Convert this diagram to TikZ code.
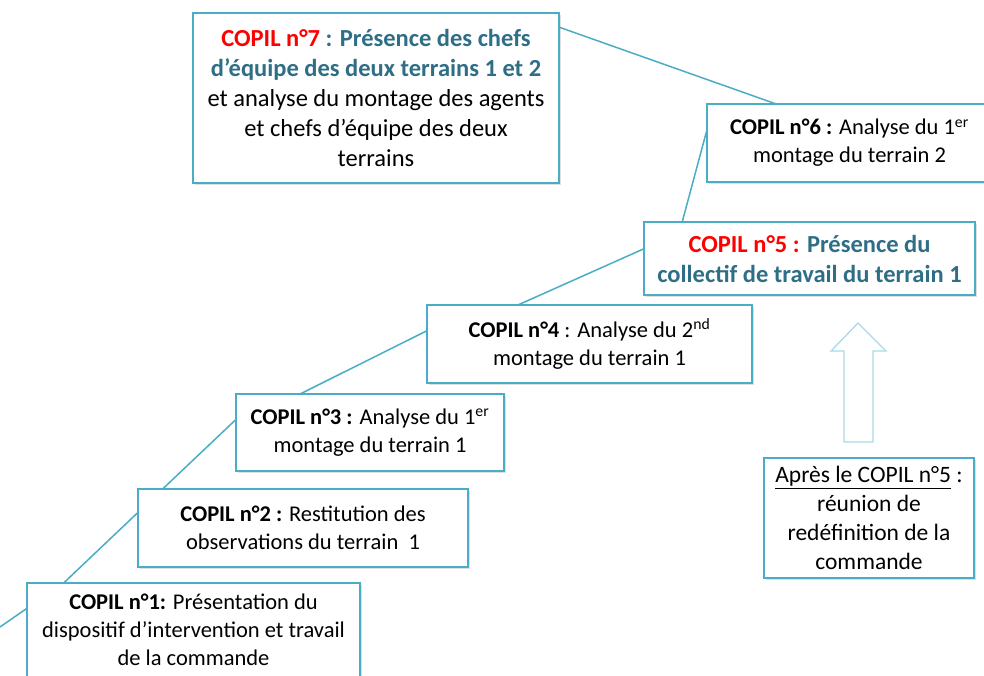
\documentclass[tikz,border=0pt]{standalone}
\usepackage{fontspec}
\setmainfont{Carlito}
\usepackage{xcolor}
\usetikzlibrary{positioning,shadows,backgrounds}

\definecolor{boxblue}{HTML}{4BACC6}
\definecolor{arrowblue}{HTML}{A9DAE8}
\definecolor{tealtext}{HTML}{2F6E87}
\definecolor{copilred}{HTML}{FF0000}

\tikzset{
    copil/.style={draw=boxblue, line width=1.3pt, fill=white, align=center,
        inner sep=0pt, font=\fontsize{22.5}{28}\selectfont,
        drop shadow={opacity=0.25, shadow xshift=1.5pt, shadow yshift=-1.5pt}},
    link/.style={draw=boxblue, line width=1.5pt}
}

\begin{document}
\begin{tikzpicture}[x=1pt, y=-1pt]
            \useasboundingbox (0,0) rectangle (984,675);
            \clip (0,0) rectangle (984,675);

            \node[copil, minimum width=333pt, minimum height=94pt] (b1) at (193.5,630)
                {\textbf{COPIL n°1:} Présentation du\\ dispositif d’intervention et travail\\ de la commande};
            \node[copil, minimum width=330pt, minimum height=78pt] (b2) at (303,528)
                {\textbf{COPIL n°2 :} Restitution des\\ observations du terrain\ \ 1};
            \node[copil, minimum width=268pt, minimum height=77pt] (b3) at (370,432.5)
                {\textbf{COPIL n°3 :} Analyse du 1\textsuperscript{er}\\ montage du terrain 1};
            \node[copil, minimum width=325pt, minimum height=78pt] (b4) at (589.5,344)
                {\textbf{COPIL n°4} : Analyse du 2\textsuperscript{nd}\\ montage du terrain 1};
            \node[copil, minimum width=331pt, minimum height=73pt, font=\fontsize{24.5}{30}\selectfont\bfseries] (b5) at (809.5,258.5)
                {\textcolor{copilred}{COPIL n°5 :} \textcolor{tealtext}{Présence du}\\ \textcolor{tealtext}{collectif de travail du terrain 1}};
            \node[copil, minimum width=285pt, minimum height=78pt] (b6) at (849.5,143)
                {\textbf{COPIL n°6 :} Analyse du 1\textsuperscript{er}\\ montage du terrain 2};
            \node[copil, minimum width=366pt, minimum height=170pt, font=\fontsize{24.5}{30}\selectfont] (b7) at (376,98)
                {\textcolor{copilred}{\textbf{COPIL n°7}} \textcolor{tealtext}{\textbf{: Présence des chefs}}\\
                 \textcolor{tealtext}{\textbf{d’équipe des deux terrains 1 et 2}}\\
                 et analyse du montage des agents\\ et chefs d’équipe des deux\\ terrains};
            \node[copil, minimum width=210pt, minimum height=120pt, font=\fontsize{23.5}{29}\selectfont] (b8) at (869,518)
                {\underline{Après le COPIL n°5} :\\ réunion de\\ redéfinition de la\\ commande};

            \coordinate (start) at (0,627);

            \begin{pgfonlayer}{background}
                \draw[link] (start) -- ([xshift=38pt]b1.north west)
                    -- ([yshift=15pt]b2.west)
                    -- ([yshift=12.5pt]b3.west) -- ([xshift=66pt]b3.north west)
                    -- ([yshift=13pt]b4.west) -- ([xshift=93pt]b4.north west)
                    -- ([yshift=9.5pt]b5.west) -- ([xshift=39pt]b5.north west)
                    -- ([yshift=11pt]b6.west) -- ([xshift=68pt]b6.north west)
                    -- ([yshift=-15pt]b7.north east);
            \end{pgfonlayer}

            \draw[arrowblue, line width=1.3pt] (858,323) -- (886,351) -- (873,351)
                -- (873,442) -- (844,442) -- (844,351) -- (831,351) -- cycle;
        \end{tikzpicture}
\end{document}
